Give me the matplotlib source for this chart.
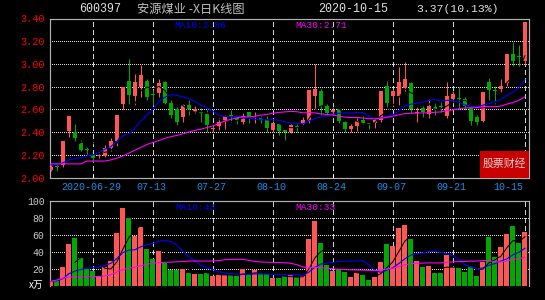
import numpy as np
import pandas as pd
import matplotlib
matplotlib.use("Agg")
import matplotlib.pyplot as plt
import matplotlib.transforms as mtrans
from matplotlib.patches import Rectangle

plt.rcParams['font.family'] = ['Liberation Mono', 'Noto Sans CJK SC', 'DejaVu Sans']
plt.rcParams['lines.scale_dashes'] = False

# 600397 daily bars, 80 trading days up to 2020-10-15 (price in yuan, volume in 万)
opens = [2.07, 2.10, 2.11, 2.41, 2.40, 2.30, 2.245, 2.20, 2.185, 2.19,
         2.26, 2.32, 2.65, 2.85, 2.72, 2.80, 2.85, 2.735, 2.74, 2.84,
         2.66, 2.60, 2.53, 2.64, 2.58, 2.58, 2.555, 2.425, 2.45, 2.49,
         2.55, 2.52, 2.49, 2.58, 2.525, 2.52, 2.51, 2.42, 2.47, 2.41,
         2.40, 2.45, 2.475, 2.50, 2.72, 2.76, 2.63, 2.58, 2.60, 2.49,
         2.43, 2.455, 2.51, 2.48, 2.48, 2.51, 2.81, 2.72, 2.72, 2.79,
         2.83, 2.57, 2.615, 2.56, 2.62, 2.625, 2.54, 2.695, 2.70, 2.69,
         2.61, 2.53, 2.50, 2.84, 2.77, 2.78, 2.83, 3.09, 3.065, 3.03]
closes = [2.09, 2.09, 2.32, 2.54, 2.35, 2.24, 2.24, 2.17, 2.195, 2.26,
          2.32, 2.55, 2.80, 2.73, 2.84, 2.90, 2.71, 2.73, 2.83, 2.66,
          2.55, 2.49, 2.64, 2.60, 2.60, 2.565, 2.46, 2.435, 2.49, 2.54,
          2.53, 2.51, 2.545, 2.53, 2.535, 2.51, 2.44, 2.48, 2.41, 2.405,
          2.46, 2.445, 2.51, 2.77, 2.78, 2.63, 2.565, 2.59, 2.50, 2.43,
          2.455, 2.50, 2.48, 2.475, 2.51, 2.76, 2.66, 2.76, 2.84, 2.87,
          2.60, 2.58, 2.575, 2.63, 2.605, 2.62, 2.72, 2.735, 2.695, 2.63,
          2.50, 2.49, 2.75, 2.77, 2.76, 2.81, 3.09, 3.03, 3.06, 3.37]
highs = [2.12, 2.13, 2.32, 2.54, 2.47, 2.33, 2.27, 2.20, 2.21, 2.29,
         2.35, 2.55, 2.80, 3.04, 2.91, 2.99, 2.87, 2.77, 2.87, 2.85,
         2.68, 2.62, 2.65, 2.68, 2.63, 2.61, 2.59, 2.46, 2.52, 2.55,
         2.59, 2.54, 2.57, 2.58, 2.58, 2.54, 2.54, 2.49, 2.48, 2.41,
         2.47, 2.47, 2.53, 2.77, 3.00, 2.78, 2.65, 2.62, 2.61, 2.50,
         2.47, 2.52, 2.54, 2.48, 2.52, 2.76, 2.85, 2.78, 2.97, 3.02,
         2.84, 2.62, 2.63, 2.69, 2.66, 2.665, 2.84, 2.76, 2.80, 2.71,
         2.63, 2.55, 2.75, 2.88, 2.81, 2.87, 3.09, 3.19, 3.17, 3.37]
lows = [2.06, 2.06, 2.09, 2.36, 2.32, 2.23, 2.21, 2.14, 2.17, 2.18,
        2.23, 2.28, 2.60, 2.65, 2.64, 2.71, 2.68, 2.64, 2.71, 2.65,
        2.52, 2.46, 2.49, 2.55, 2.57, 2.49, 2.40, 2.40, 2.42, 2.43,
        2.49, 2.47, 2.47, 2.48, 2.48, 2.48, 2.40, 2.40, 2.37, 2.33,
        2.39, 2.40, 2.46, 2.48, 2.60, 2.55, 2.55, 2.55, 2.48, 2.40,
        2.40, 2.41, 2.47, 2.43, 2.44, 2.49, 2.62, 2.63, 2.64, 2.76,
        2.57, 2.49, 2.53, 2.52, 2.55, 2.58, 2.52, 2.66, 2.60, 2.59,
        2.46, 2.46, 2.49, 2.68, 2.645, 2.75, 2.81, 2.98, 2.97, 2.99]
volumes = [4.8, 5.9, 21.8, 48.7, 56.2, 32.5, 19.8, 16.6, 11.1, 21.8,
           28.5, 62.2, 91.9, 80.0, 58.2, 68.9, 43.2, 30.9, 40.4, 26.9,
           18.2, 17.8, 19.8, 14.7, 13.1, 13.1, 15.0, 11.1, 11.9, 11.9,
           11.9, 11.9, 19.4, 13.5, 17.8, 13.1, 13.1, 8.5, 8.5, 10.7,
           11.9, 9.9, 10.7, 55.0, 76.0, 49.9, 23.8, 17.0, 19.0, 15.8,
           9.9, 14.3, 11.9, 7.1, 9.9, 27.7, 49.5, 46.3, 68.1, 71.3,
           55.0, 28.5, 21.8, 22.6, 14.3, 14.3, 35.6, 21.8, 20.2, 15.4,
           23.4, 10.7, 27.7, 57.0, 33.3, 45.1, 60.6, 70.1, 49.9, 63.0]

# first points of the averages depend on days before the window ->
ma10_lead = [2.11, 2.11, 2.13, 2.155, 2.165, 2.175, 2.19, 2.20, 2.22]
ma30_lead = [2.12, 2.12, 2.12, 2.12, 2.12, 2.12, 2.145, 2.145, 2.145, 2.145,
             2.155, 2.17, 2.19, 2.215, 2.24, 2.265, 2.29, 2.31, 2.325, 2.345,
             2.36, 2.37, 2.385, 2.40, 2.415, 2.425, 2.44, 2.455, 2.475]
vma10_lead = [5.0, 5.5, 8.0, 14.0, 17.0, 19.0, 20.5, 21.0, 22.0]
vma30_lead = [5.0, 6.5, 8.7, 9.9, 10.0, 10.0, 10.0, 10.3, 10.7, 11.5,
              12.7, 16.0, 19.0, 20.5, 21.8, 23.5, 25.0, 26.5, 27.0, 27.5,
              27.7, 28.0, 28.5, 28.9, 28.9, 28.9, 28.9, 29.0, 29.5]

date_idx = [7, 17, 27, 37, 47, 57, 67, 79]
date_labels = ['2020-06-29', '07-13', '07-27', '08-10', '08-24', '09-07', '09-21', '10-15']
price_ticks = [2.00, 2.20, 2.40, 2.60, 2.80, 3.00, 3.20, 3.40]
vol_ticks = [20, 40, 60, 80, 100]


def moving_avg(vals, window, lead):
    s = pd.Series(vals, dtype=float).rolling(window).mean()
    s.iloc[:len(lead)] = lead
    return s.values


x = np.arange(len(closes))
o = np.array(opens)
c = np.array(closes)
ma5 = pd.Series(c).rolling(5).mean().values
ma10 = moving_avg(c, 10, ma10_lead)
ma30 = moving_avg(c, 30, ma30_lead)
vma5 = pd.Series(volumes).rolling(5).mean().values
vma10 = moving_avg(volumes, 10, vma10_lead)
vma30 = moving_avg(volumes, 30, vma30_lead)

RED = '#ff5555'
GREEN = '#00a800'
BLUE = '#0000ff'
MAG = '#ff00ff'
BORDER = '#b0b0b0'
colors = np.where(c >= o, RED, GREEN)
PX = 0.72  # one pixel in points

W, H = 545, 300
fig = plt.figure(figsize=(W / 100, H / 100), dpi=100, facecolor='black')


def px_rect(l, t, r, b):
    return [l / W, 1 - b / H, (r - l) / W, (b - t) / H]


def px(xp, yp):
    return xp / W, 1 - yp / H


ax = fig.add_axes(px_rect(50, 18.5, 529, 177.5))
axv = fig.add_axes(px_rect(50, 201, 529, 285.5))

for a in (ax, axv):
    a.set_facecolor('black')
    a.set_xlim(-0.15, 79.68)
    for s in a.spines.values():
        s.set_color(BORDER)
        s.set_linewidth(1.2 * PX)
    for d in date_idx:
        a.axvline(d, color='#d0d0d0', lw=PX, ls=(0, (2.9, 2.6)), zorder=1,
                  antialiased=False)
axv.spines['bottom'].set_visible(False)

# ---- price panel
ax.set_ylim(2.0, 3.4)
for lv in price_ticks[1:-1]:
    ax.axhline(lv, color='#e0e0e0', lw=PX, ls=(0, (PX, 2 * PX)), zorder=1,
               antialiased=False)
ax.vlines(x, lows, highs, colors=colors, lw=PX, zorder=3)
body_lo = np.minimum(o, c)
body_h = np.maximum(np.abs(c - o), 0.009)
ax.bar(x, body_h, width=0.8, bottom=body_lo, color=colors, lw=0, zorder=4)
ax.plot(x, ma5, color='black', lw=PX, zorder=5)
ax.plot(x, ma10, color=BLUE, lw=1.1 * PX, zorder=5)
ax.plot(x, ma30, color=MAG, lw=1.1 * PX, zorder=5)

ax.set_yticks(price_ticks)
ax.set_yticklabels(['%.2f' % t for t in price_ticks])
ax.tick_params(axis='y', length=0, pad=4, labelsize=7.3, labelcolor='#ff0000')
ax.set_xticks(date_idx)
ax.tick_params(axis='x', direction='in', length=3, width=PX, color='white', labelbottom=False)

tr = mtrans.blended_transform_factory(ax.transData, ax.transAxes)
for d, lab in zip(date_idx[:-1], date_labels[:-1]):
    ax.text(d - 0.25, -0.058, lab, transform=tr, ha='center', va='center',
            fontsize=7.2, color='#1e8ee6')
ax.text(0.988, -0.058, date_labels[-1], transform=ax.transAxes, ha='right',
        va='center', fontsize=7.2, color='#1e8ee6')

# watermark box
ax.add_patch(Rectangle((0.898, 0.0), 0.102, 0.167, transform=ax.transAxes,
                       facecolor='#c80000', edgecolor='none', zorder=6))
ax.text(0.949, 0.085, '股票财经', transform=ax.transAxes, ha='center', va='center',
        fontsize=7.8, color='#e8d0d0', family=['Noto Sans CJK SC'], zorder=7)

# ---- volume panel
axv.set_ylim(0, 100)
for lv in vol_ticks[:-1]:
    axv.axhline(lv, color='#e0e0e0', lw=PX, ls=(0, (PX, 2 * PX)), zorder=1,
                antialiased=False)
axv.bar(x, volumes, width=0.85, color=colors, lw=0, zorder=3)
axv.plot(x, vma5, color='black', lw=PX, zorder=5)
axv.plot(x, vma10, color=BLUE, lw=1.1 * PX, zorder=5)
axv.plot(x, vma30, color=MAG, lw=1.1 * PX, zorder=5)
axv.set_yticks(vol_ticks)
axv.set_yticklabels([str(t) for t in vol_ticks])
axv.tick_params(axis='y', length=0, pad=4, labelsize=7.0, labelcolor='#c8c8c8')
axv.tick_params(axis='x', length=0, labelbottom=False)

# ---- texts
ty = px(0, 9.5)[1]
fig.text(px(79, 0)[0], ty, '600397', ha='left', va='center', fontsize=8.4, color='#e0e0e0')
fig.text(px(137, 0)[0], ty, '安源煤业 -X日K线图', ha='left', va='center', fontsize=8.8,
         color='#c0c0c0', family=['Noto Sans CJK SC', 'DejaVu Sans'])
fig.text(px(318, 0)[0], ty, '2020-10-15', ha='left', va='center', fontsize=8.4, color='#e0e0e0')
fig.text(px(416, 0)[0], ty, '3.37(10.13%)', ha='left', va='center', fontsize=8.2, color='#e0e0e0')

fig.text(*px(174.5, 25), 'MA10:2.86', ha='left', va='center', fontsize=6.8, color=BLUE)
fig.text(*px(295, 25), 'MA30:2.71', ha='left', va='center', fontsize=6.8, color=MAG)
fig.text(*px(175, 207), 'MA10:43', ha='left', va='center', fontsize=6.8, color=BLUE)
fig.text(*px(295, 207), 'MA30:33', ha='left', va='center', fontsize=6.8, color=MAG)
fig.text(*px(36, 285), 'x万', ha='center', va='center', fontsize=7, color='white',
         family=['Noto Sans CJK SC', 'DejaVu Sans'])

fig.savefig('out.png', dpi=100, facecolor='black')
